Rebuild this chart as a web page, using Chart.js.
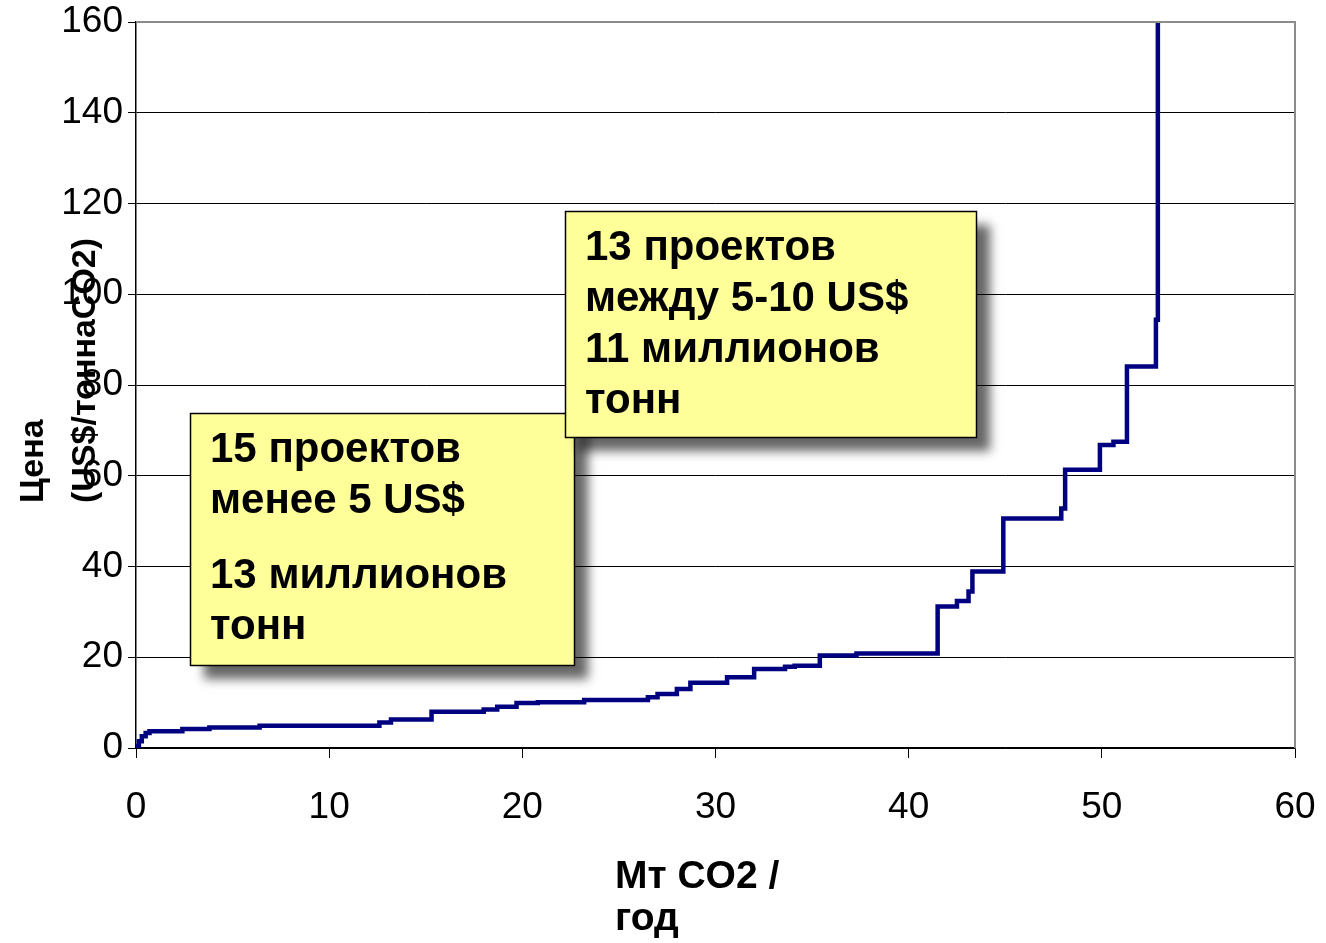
<!DOCTYPE html>
<html lang="ru">
<head>
<meta charset="utf-8">
<script src="https://cdn.jsdelivr.net/npm/chart.js@4.4.1/dist/chart.umd.min.js"></script>
<style>
  html, body { margin: 0; padding: 0; background: #fff; }
  #wrap { width: 1326px; height: 943px; position: relative; }
</style>
</head>
<body>
<div id="wrap"><canvas id="chart"></canvas></div>
<script>
// Точки, где меняется цена: объём (Мт CO2 / год) и новая цена (US$/т)
const volumeSteps = [0, 0.15, 0.3, 0.5, 0.7, 2.4, 3.8, 6.4, 12.6, 13.2, 15.3, 18.0, 18.7, 19.7,
    20.8, 23.2, 26.5, 27.0, 28.0, 28.7, 30.6, 32.0, 33.6, 34.1, 35.4, 37.3, 41.5, 42.5, 43.1,
    43.3, 44.9, 47.9, 48.1, 49.9, 50.6, 51.3, 52.8, 52.9];
const priceSteps = [0.4, 1.5, 2.6, 3.3, 3.7, 4.2, 4.5, 4.9, 5.6, 6.3, 8.0, 8.5, 9.1, 9.9,
    10.1, 10.6, 11.2, 11.9, 13.0, 14.4, 15.6, 17.4, 17.9, 18.1, 20.4, 20.8, 31.2, 32.4, 34.5,
    38.9, 50.6, 52.8, 61.3, 66.8, 67.5, 84.1, 94.4, 160];

const xTicks = [0, 10, 20, 30, 40, 50, 60];
const yTicks = [0, 20, 40, 60, 80, 100, 120, 140, 160];

const yTitleLines = ['Цена', '(US$/тоннаCO2)'];
const xTitleLines = ['Мт CO2 /', 'год'];

const note1Text = [['15 проектов', 'менее 5 US$'], ['13 миллионов', 'тонн']];
const note2Text = [['13 проектов', 'между 5-10 US$', '11 миллионов', 'тонн']];

const FONT = '"Liberation Sans", Arial, sans-serif';

// выноски: углы в единицах осей
const notes = [
    { x0: 2.8, x1: 22.7, y0: 73.9, y1: 18.3, paragraphs: note1Text },
    { x0: 22.2, x1: 43.5, y0: 118.4, y1: 68.6, paragraphs: note2Text }
];

const overlayPlugin = {
    id: 'overlay',
    afterDraw(chart) {
        const { ctx, chartArea: a, scales: { x, y } } = chart;
        ctx.save();

        // серая рамка сверху и справа
        ctx.strokeStyle = '#8c8c8c';
        ctx.lineWidth = 2;
        ctx.beginPath();
        ctx.moveTo(a.left, a.top);
        ctx.lineTo(a.right, a.top);
        ctx.lineTo(a.right, a.bottom);
        ctx.stroke();

        // жёлтые выноски с тенью
        notes.forEach(n => {
            const left = Math.round(x.getPixelForValue(n.x0));
            const right = Math.round(x.getPixelForValue(n.x1));
            const top = Math.round(y.getPixelForValue(n.y0));
            const bottom = Math.round(y.getPixelForValue(n.y1));

            ctx.save();
            ctx.shadowColor = 'rgba(0, 0, 0, 0.6)';
            ctx.shadowBlur = 10;
            ctx.shadowOffsetX = 14;
            ctx.shadowOffsetY = 14;
            ctx.fillStyle = '#ffff99';
            ctx.fillRect(left, top, right - left, bottom - top);
            ctx.restore();

            ctx.strokeStyle = '#000';
            ctx.lineWidth = 1.5;
            ctx.strokeRect(left + 0.5, top + 0.5, right - left, bottom - top);

            ctx.fillStyle = '#000';
            ctx.font = 'bold 42px ' + FONT;
            ctx.textAlign = 'left';
            ctx.textBaseline = 'alphabetic';
            let base = top + 49;
            n.paragraphs.forEach((para, pi) => {
                if (pi > 0) base += 24;
                para.forEach(line => {
                    ctx.fillText(line, left + 20, base);
                    base += 51;
                });
            });
        });

        // подписи осей
        ctx.fillStyle = '#000';
        ctx.textAlign = 'left';
        ctx.textBaseline = 'alphabetic';
        ctx.font = 'bold 39px ' + FONT;
        xTitleLines.forEach((line, i) => ctx.fillText(line, 615, 888 + i * 42));

        ctx.font = 'bold 34px ' + FONT;
        yTitleLines.forEach((line, i) => {
            ctx.save();
            ctx.translate(43 + i * 52, 503);
            ctx.rotate(-Math.PI / 2);
            ctx.fillText(line, 0, 0);
            ctx.restore();
        });

        ctx.restore();
    }
};

new Chart(document.getElementById('chart'), {
    type: 'line',
    data: {
        datasets: [{
            data: volumeSteps.map((v, i) => ({ x: v, y: priceSteps[i] })),
            borderColor: '#000080',
            borderWidth: 4.5,
            stepped: true,
            pointRadius: 0,
            fill: false,
            borderCapStyle: 'butt',
            borderJoinStyle: 'miter'
        }]
    },
    options: {
        responsive: true,
        maintainAspectRatio: false,
        animation: false,
        devicePixelRatio: 1,
        layout: { padding: { top: 22, right: 31, left: 0, bottom: 0 } },
        plugins: {
            legend: { display: false },
            tooltip: { enabled: false }
        },
        scales: {
            x: {
                type: 'linear',
                min: 0,
                max: 60,
                afterBuildTicks: s => { s.ticks = xTicks.map(v => ({ value: v })); },
                afterFit: s => {
                    s.height = 195;
                    s.paddingLeft = 0;
                    s.paddingRight = 0;
                },
                grid: {
                    drawOnChartArea: false,
                    drawTicks: true,
                    tickLength: 10,
                    color: '#000',
                    lineWidth: 1
                },
                border: { color: '#000', width: 1.5 },
                ticks: {
                    padding: 28,
                    color: '#000',
                    font: { family: FONT, size: 37 }
                }
            },
            y: {
                type: 'linear',
                min: 0,
                max: 160,
                afterBuildTicks: s => { s.ticks = yTicks.map(v => ({ value: v })); },
                afterFit: s => {
                    s.width = 136;
                    s.paddingTop = 0;
                    s.paddingBottom = 0;
                },
                grid: {
                    color: c => c.tick && c.tick.value === 160 ? '#8c8c8c' : '#000',
                    tickColor: '#000',
                    lineWidth: 1,
                    tickLength: 8
                },
                border: { color: '#000', width: 1.5 },
                ticks: {
                    padding: 5,
                    color: '#000',
                    font: { family: FONT, size: 37 }
                }
            }
        }
    },
    plugins: [overlayPlugin]
});
</script>
</body>
</html>
